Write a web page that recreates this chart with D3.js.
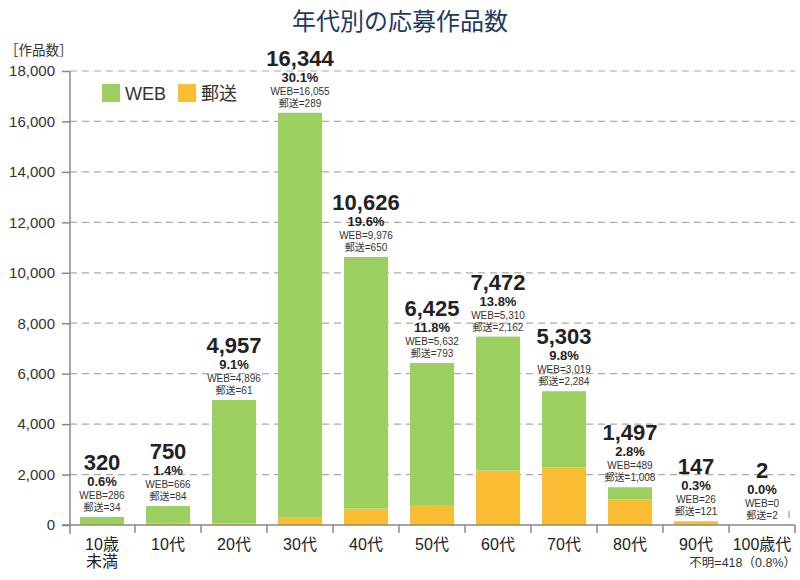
<!DOCTYPE html>
<html><head><meta charset="utf-8">
<script src="https://cdn.jsdelivr.net/npm/d3@7"></script>
<style>body{margin:0;background:#fff;} svg{display:block;font-family:"Liberation Sans","Noto Sans CJK JP",sans-serif;}</style>
</head><body>
<svg id="c" width="800" height="580"></svg>
<script>
const categories = ["10歳\n未満","10代","20代","30代","40代","50代","60代","70代","80代","90代","100歳代"];
const webValues  = [286,666,4896,16055,9976,5632,5310,3019,489,26,0];
const mailValues = [34,84,61,289,650,793,2162,2284,1008,121,2];
const totals     = [320,750,4957,16344,10626,6425,7472,5303,1497,147,2];
const percents   = ["0.6%","1.4%","9.1%","30.1%","19.6%","11.8%","13.8%","9.8%","2.8%","0.3%","0.0%"];
const yTicks     = [0,2000,4000,6000,8000,10000,12000,14000,16000,18000];
const seriesNames = ["WEB","郵送"];
const colors = {"WEB":"#9bcf5e","郵送":"#fbbd33"};

const svg = d3.select("#c");
const x = d3.scaleBand().domain(categories).range([69,795]).paddingInner(0.333).paddingOuter(0.1665);
const y = d3.scaleLinear().domain([0,18000]).range([525,71]);
const fmt = d3.format(",");

// title
svg.append("text").attr("x",400).attr("y",30).attr("text-anchor","middle")
  .attr("font-size",24).attr("fill","#1f3a5c").text("年代別の応募作品数");
svg.append("text").attr("x",5).attr("y",55).attr("font-size",13.5).attr("fill","#333").text("［作品数］");

// grid
svg.append("g").selectAll("line").data(yTicks.filter(d=>d>0)).join("line")
  .attr("x1",70).attr("x2",795).attr("y1",d=>y(d)).attr("y2",d=>y(d))
  .attr("stroke","#aaa").attr("stroke-width",1.2).attr("stroke-dasharray","7,5");

// y axis
const yAxis = svg.append("g").attr("transform","translate(70,0)")
  .call(d3.axisLeft(y).tickValues(yTicks).tickFormat(fmt).tickSize(8).tickSizeOuter(0));
yAxis.select(".domain").remove();
yAxis.selectAll(".tick line").attr("stroke","#888").attr("stroke-width",1.5);
yAxis.selectAll(".tick text").attr("font-size",15).attr("fill","#333").attr("x",-15)
  .attr("font-family","Liberation Sans, sans-serif");
svg.append("line").attr("x1",70).attr("x2",70).attr("y1",71).attr("y2",534).attr("stroke","#888").attr("stroke-width",1.5);

// stacked data
const rows = categories.map((c,i)=>({cat:c,"WEB":webValues[i],"郵送":mailValues[i]}));
const stack = d3.stack().keys(["郵送","WEB"])(rows);
svg.append("g").selectAll("g").data(stack).join("g").attr("fill",d=>colors[d.key])
  .selectAll("rect").data(d=>d).join("rect")
  .attr("x",d=>x(d.data.cat)).attr("width",x.bandwidth())
  .attr("y",d=>y(d[1])).attr("height",d=>y(d[0])-y(d[1]));

// x axis
svg.append("line").attr("x1",62).attr("x2",795).attr("y1",525).attr("y2",525).attr("stroke","#888").attr("stroke-width",1.5);
const step = x.step();
const bounds = categories.map((c,i)=>x(c)+x.bandwidth()+ (step-x.bandwidth())/2);
svg.append("g").selectAll("line").data(bounds).join("line")
  .attr("x1",d=>d).attr("x2",d=>d).attr("y1",525).attr("y2",533).attr("stroke","#888").attr("stroke-width",1.5);
svg.append("line").attr("x1",789).attr("x2",789).attr("y1",511).attr("y2",518).attr("stroke","#888").attr("stroke-width",1);

const xl = svg.append("g").selectAll("text").data(categories).join("text")
  .attr("text-anchor","middle").attr("font-size",16).attr("fill","#222")
  .attr("transform",d=>`translate(${x(d)+x.bandwidth()/2},550)`);
xl.each(function(d){
  const parts = d.split("\n");
  parts.forEach((p,k)=>d3.select(this).append("tspan").attr("x",0).attr("dy",k?17:0).text(p));
});
svg.append("text").attr("x",796).attr("y",567).attr("text-anchor","end").attr("font-size",12.5).attr("fill","#333").text("不明=418（0.8%）");

// value labels
const lab = svg.append("g").selectAll("g").data(categories).join("g")
  .attr("transform",(d,i)=>`translate(${x(d)+x.bandwidth()/2},${y(totals[i])})`)
  .attr("text-anchor","middle").attr("fill","#333");
lab.append("text").attr("y",-47).attr("font-size",22).attr("font-weight","bold").attr("fill","#222").text((d,i)=>fmt(totals[i]));
lab.append("text").attr("y",-31).attr("font-size",13).attr("font-weight","bold").attr("fill","#222").text((d,i)=>percents[i]);
lab.append("text").attr("y",-18).attr("font-size",10).text((d,i)=>"WEB="+fmt(webValues[i]));
lab.append("text").attr("y",-6).attr("font-size",10).text((d,i)=>"郵送="+fmt(mailValues[i]));

// legend
const lg = svg.append("g").attr("transform","translate(102,84)");
seriesNames.forEach((s,i)=>{
  const g = lg.append("g").attr("transform",`translate(${i*76},0)`);
  g.append("rect").attr("width",18).attr("height",18).attr("fill",colors[s]);
  g.append("text").attr("x",23).attr("y",16).attr("font-size",18).attr("fill","#333").text(s);
});
</script>
</body></html>
